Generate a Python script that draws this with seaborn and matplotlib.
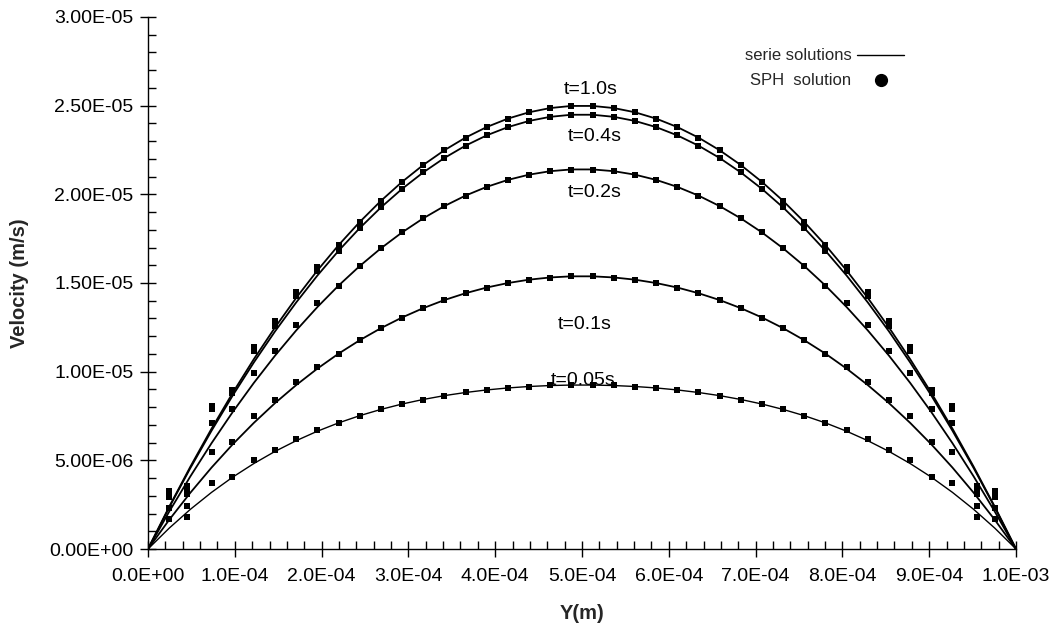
import numpy as np
import pandas as pd
import matplotlib
matplotlib.use("Agg")
import matplotlib.pyplot as plt
import seaborn as sns
from matplotlib.lines import Line2D
from matplotlib.ticker import MultipleLocator, FuncFormatter

# Start-up plane Poiseuille flow: series solution vs SPH, channel width 1 mm.
# Velocities are in micrometres per second; half-channel values (wall -> centre),
# the profile being symmetric about the mid-plane.
times = ["t=0.05s", "t=0.1s", "t=0.2s", "t=0.4s", "t=1.0s"]

# series solution sampled at y = i/41 mm, i = 0..20
serie_t005 = [0, 1.174, 2.236, 3.192, 4.052, 4.820, 5.504, 6.108, 6.642, 7.111, 7.518,
              7.871, 8.175, 8.432, 8.649, 8.826, 8.970, 9.082, 9.164, 9.218, 9.245]
serie_t01 = [0, 1.643, 3.172, 4.590, 5.903, 7.113, 8.227, 9.244, 10.172, 11.015, 11.773,
             12.452, 13.055, 13.582, 14.039, 14.425, 14.745, 14.998, 15.188, 15.313, 15.376]
serie_t02 = [0, 2.105, 4.093, 5.965, 7.723, 9.368, 10.903, 12.326, 13.643, 14.853, 15.956,
             16.955, 17.852, 18.646, 19.338, 19.930, 20.422, 20.815, 21.110, 21.306, 21.404]
serie_t04 = [0, 2.341, 4.564, 6.668, 8.654, 10.522, 12.272, 13.904, 15.419, 16.816, 18.096,
             19.259, 20.306, 21.236, 22.050, 22.746, 23.327, 23.791, 24.139, 24.371, 24.488]
serie_t10 = [0, 2.380, 4.640, 6.782, 8.804, 10.708, 12.493, 14.158, 15.705, 17.133, 18.441,
             19.631, 20.702, 21.654, 22.487, 23.200, 23.795, 24.271, 24.628, 24.866, 24.985]

# SPH particle positions (units of 1e-5 m) and velocities, wall -> centre
sph_pos = [2.44, 4.55, 7.39, 9.70, 12.20, 14.63, 17.07, 19.51, 21.95, 24.39,
           26.83, 29.27, 31.71, 34.15, 36.59, 39.02, 41.46, 43.90, 46.34, 48.78]
sph_t005 = [1.68, 1.80, 3.71, 4.08, 5.02, 5.59, 6.19, 6.72, 7.11, 7.52,
            7.87, 8.18, 8.43, 8.65, 8.83, 8.97, 9.08, 9.16, 9.22, 9.24]
sph_t01 = [2.30, 2.44, 5.46, 6.02, 7.52, 8.41, 9.44, 10.29, 11.01, 11.77,
           12.45, 13.05, 13.58, 14.04, 14.42, 14.74, 15.00, 15.19, 15.31, 15.38]
sph_t02 = [2.95, 3.10, 7.09, 7.88, 9.92, 11.16, 12.64, 13.87, 14.85, 15.96,
           16.96, 17.85, 18.65, 19.34, 19.93, 20.42, 20.82, 21.11, 21.31, 21.40]
sph_t04 = [3.14, 3.45, 7.92, 8.79, 11.16, 12.58, 14.24, 15.65, 16.82, 18.10,
           19.26, 20.31, 21.24, 22.05, 22.75, 23.33, 23.79, 24.14, 24.37, 24.49]
sph_t10 = [3.27, 3.55, 8.07, 8.97, 11.38, 12.83, 14.52, 15.90, 17.13, 18.44,
           19.63, 20.70, 21.65, 22.49, 23.20, 23.80, 24.27, 24.63, 24.87, 24.99]

x_ticks = [0.0, 1e-4, 2e-4, 3e-4, 4e-4, 5e-4, 6e-4, 7e-4, 8e-4, 9e-4, 1e-3]
y_ticks = [0.0, 5e-6, 1e-5, 1.5e-5, 2e-5, 2.5e-5, 3e-5]

width = 1.0e-3
serie_half = [serie_t005, serie_t01, serie_t02, serie_t04, serie_t10]
sph_half = [sph_t005, sph_t01, sph_t02, sph_t04, sph_t10]

grid = np.linspace(0.0, width, 42)
curve_rows, sph_rows = [], []
for name, c, p in zip(times, serie_half, sph_half):
    full = np.concatenate([c, c[::-1]]) * 1e-6
    curve_rows.append(pd.DataFrame({"time": name, "y": grid, "v": full}))
    pos = np.array(sph_pos) * 1e-5
    pos_full = np.concatenate([pos, (width - pos)[::-1]])
    val_full = np.concatenate([p, p[::-1]]) * 1e-6
    sph_rows.append(pd.DataFrame({"time": name, "y": pos_full, "v": val_full}))
curves = pd.concat(curve_rows, ignore_index=True)
sph = pd.concat(sph_rows, ignore_index=True)

sns.set_style("ticks")
plt.rcParams["font.family"] = ["Liberation Sans", "DejaVu Sans"]

fig = plt.figure(figsize=(10.6, 6.32), dpi=100)
ax = fig.add_axes([148 / 1060, 1 - 549 / 632, 868 / 1060, 532 / 632])

widths = {"t=0.05s": 1.0, "t=0.1s": 1.3, "t=0.2s": 1.3, "t=0.4s": 1.3, "t=1.0s": 1.3}
for name in times:
    sub = curves[curves["time"] == name]
    sns.lineplot(data=sub, x="y", y="v", color="black", lw=widths[name],
                 estimator=None, sort=False, ax=ax, legend=False)

sns.scatterplot(data=sph, x="y", y="v", marker="s", s=22, color="black",
                linewidth=0, ax=ax, legend=False, zorder=3)

# curve annotations
label_pos = {"t=1.0s": (5.10e-4, 25.9e-6), "t=0.4s": (5.15e-4, 23.25e-6),
             "t=0.2s": (5.15e-4, 20.09e-6), "t=0.1s": (5.03e-4, 12.65e-6),
             "t=0.05s": (5.01e-4, 9.5e-6)}
for name, (lx, ly) in label_pos.items():
    ax.text(lx, ly, name, ha="center", va="center", fontsize=14, color="black")

ax.set_xlim(0, width)
ax.set_ylim(0, 3e-5)
ax.set_xticks(x_ticks)
ax.set_yticks(y_ticks)
ax.xaxis.set_minor_locator(MultipleLocator(2e-5))
ax.yaxis.set_minor_locator(MultipleLocator(1e-6))
ax.xaxis.set_major_formatter(FuncFormatter(lambda v, _: f"{v:.1E}"))
ax.yaxis.set_major_formatter(FuncFormatter(lambda v, _: f"{v:.2E}"))

sns.despine(ax=ax)
for s in ("left", "bottom"):
    ax.spines[s].set_color("black")
    ax.spines[s].set_linewidth(1.0)
ax.tick_params(which="major", direction="inout", length=11, width=1.0,
               color="black", labelsize=14, labelcolor="black")
ax.tick_params(axis="x", which="major", pad=8)
ax.tick_params(axis="y", which="major", pad=5)
ax.tick_params(which="minor", direction="in", length=5.5, width=1.0, color="black")

ax.set_xlabel("Y(m)", fontsize=14.5, fontweight="bold")
ax.set_ylabel("Velocity (m/s)", fontsize=14.5, fontweight="bold")
ax.xaxis.set_label_coords(0.5, -0.104)
ax.yaxis.set_label_coords(-0.137, 0.5)

handles = [Line2D([], [], color="black", lw=1.0),
           Line2D([], [], ls="none", marker="o", ms=8.5, color="black")]
ax.legend(handles, ["serie solutions", "SPH  solution"], markerfirst=False,
          frameon=False, fontsize=12, handlelength=2.8, handletextpad=0.35,
          labelspacing=0.6, loc="upper right", bbox_to_anchor=(0.871, 0.941),
          borderaxespad=0, borderpad=0)

fig.savefig("out.png", dpi=100, facecolor="white")
